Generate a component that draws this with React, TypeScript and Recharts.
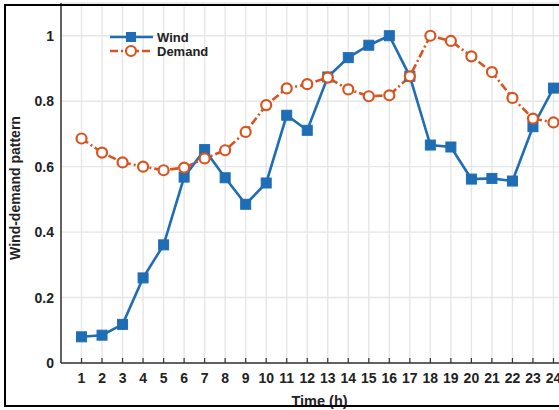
import React from 'react';
import {
  LineChart,
  Line,
  XAxis,
  YAxis,
  CartesianGrid,
  Legend,
} from 'recharts';

// Hourly normalised wind output and load demand
const hours = [1, 2, 3, 4, 5, 6, 7, 8, 9, 10, 11, 12, 13, 14, 15, 16, 17, 18, 19, 20, 21, 22, 23, 24];
const wind = [
  0.08, 0.085, 0.118, 0.26, 0.361, 0.568, 0.652, 0.566, 0.485, 0.55, 0.757, 0.711,
  0.874, 0.933, 0.971, 1.0, 0.876, 0.666, 0.66, 0.562, 0.564, 0.556, 0.722, 0.84,
];
const demand = [
  0.686, 0.643, 0.613, 0.6, 0.589, 0.597, 0.625, 0.65, 0.706, 0.788, 0.839, 0.852,
  0.872, 0.836, 0.815, 0.818, 0.876, 1.0, 0.984, 0.937, 0.889, 0.81, 0.747, 0.735,
];
const yTicks = [0, 0.2, 0.4, 0.6, 0.8, 1];

const data = hours.map((h, i) => ({ hour: h, wind: wind[i], demand: demand[i] }));

const BLUE = '#1f6db5';
const ORANGE = '#d9531e';
const TEXT = '#222222';
const FONT = '"Liberation Sans", Arial, Helvetica, sans-serif';

const SquareDot = (props: any) => {
  const { cx, cy } = props;
  if (cx == null || cy == null) return null;
  return <rect x={cx - 5} y={cy - 5} width={10} height={10} fill={BLUE} stroke={BLUE} strokeWidth={1} />;
};

const CircleDot = (props: any) => {
  const { cx, cy } = props;
  if (cx == null || cy == null) return null;
  return <circle cx={cx} cy={cy} r={5} fill="#ffffff" stroke={ORANGE} strokeWidth={2.2} />;
};

const XTick = (props: any) => {
  const { x, y, payload } = props;
  return (
    <g>
      <line x1={x} x2={x} y1={y} y2={y - 5} stroke="#333" strokeWidth={1.2} />
      <text x={x} y={y + 19.5} textAnchor="middle" fontFamily={FONT} fontWeight="bold" fontSize={14} fill={TEXT}>
        {payload.value}
      </text>
    </g>
  );
};

const LegendBox = () => (
  <svg width={120} height={32}>
    <line x1={5} x2={48} y1={8} y2={8} stroke={BLUE} strokeWidth={2.6} />
    <rect x={21} y={3} width={10} height={10} fill={BLUE} />
    <text x={52} y={12.5} fontFamily={FONT} fontWeight="bold" fontSize={13} fill={TEXT}>Wind</text>
    <line x1={5} x2={48} y1={22} y2={22} stroke={ORANGE} strokeWidth={2.6} strokeDasharray="8 3 2 3" />
    <circle cx={26} cy={22} r={5} fill="#ffffff" stroke={ORANGE} strokeWidth={2.2} />
    <text x={52} y={26.5} fontFamily={FONT} fontWeight="bold" fontSize={13} fill={TEXT}>Demand</text>
  </svg>
);

export default function App() {
  return (
    <div
      style={{
        position: 'fixed',
        left: 0,
        top: 0,
        width: 559,
        height: 410,
        overflow: 'hidden',
        background: '#ffffff',
      }}
    >
      <LineChart
        width={620}
        height={410}
        data={data}
        margin={{ top: 3, right: 46, bottom: 17, left: 21 }}
        style={{ position: 'absolute', left: 0, top: 0 }}
      >
        <CartesianGrid stroke="#e6e6e6" strokeWidth={1.4} />
        <XAxis
          dataKey="hour"
          type="number"
          domain={[0, 25]}
          ticks={hours}
          interval={0}
          height={30}
          tickSize={0}
          tickMargin={0}
          tickLine={false}
          tick={<XTick />}
          axisLine={{ stroke: '#333', strokeWidth: 1.5 }}
          label={{
            content: (p: any) => {
              const vb = p.viewBox;
              return (
                <text
                  x={vb.x + vb.width / 2 + 2}
                  y={vb.y + 43}
                  textAnchor="middle"
                  fontFamily={FONT}
                  fontWeight="bold"
                  fontSize={14.5}
                  fill={TEXT}
                >
                  Time (h)
                </text>
              );
            },
          }}
        />
        <YAxis
          type="number"
          domain={[0, 1.1]}
          ticks={yTicks}
          width={40}
          tickSize={0}
          tickMargin={7}
          tickLine={false}
          axisLine={{ stroke: '#333', strokeWidth: 1.5 }}
          tick={{ fontFamily: FONT, fontWeight: 'bold', fontSize: 14, fill: TEXT }}
          label={{
            content: (p: any) => {
              const vb = p.viewBox;
              const cx = 15;
              const cy = vb.y + vb.height / 2 + 5;
              return (
                <text
                  x={cx}
                  y={cy}
                  transform={`rotate(-90 ${cx} ${cy})`}
                  textAnchor="middle"
                  dominantBaseline="central"
                  fontFamily={FONT}
                  fontWeight="bold"
                  fontSize={14}
                  fill={TEXT}
                >
                  Wind-demand pattern
                </text>
              );
            },
          }}
        />
        <Legend
          layout="vertical"
          align="center"
          verticalAlign="middle"
          wrapperStyle={{ left: 105, top: 29, width: 120 }}
          content={() => <LegendBox />}
        />
        <Line
          type="linear"
          dataKey="wind"
          name="Wind"
          stroke={BLUE}
          strokeWidth={2.6}
          dot={<SquareDot />}
          activeDot={false}
          isAnimationActive={false}
        />
        <Line
          type="linear"
          dataKey="demand"
          name="Demand"
          stroke={ORANGE}
          strokeWidth={2.6}
          strokeDasharray="8 3 2 3"
          dot={<CircleDot />}
          activeDot={false}
          isAnimationActive={false}
        />
      </LineChart>
      <div
        style={{
          position: 'absolute',
          left: 4,
          top: 4,
          width: 620,
          height: 399,
          borderLeft: '2.5px solid #000',
          borderTop: '2.5px solid #000',
          borderBottom: '2.5px solid #000',
          pointerEvents: 'none',
        }}
      />
    </div>
  );
}
